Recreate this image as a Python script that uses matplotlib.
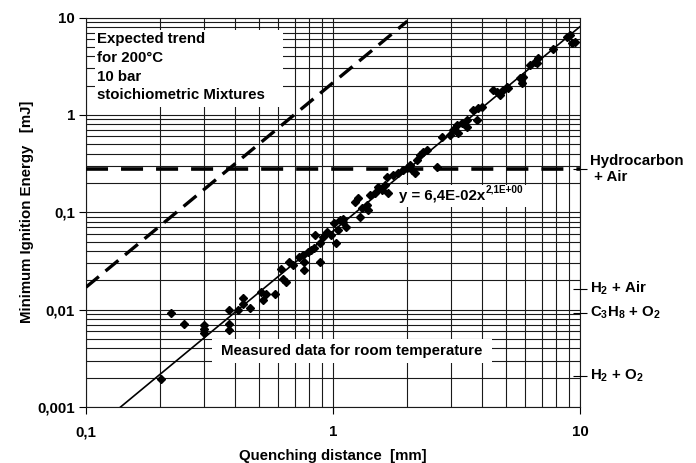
import numpy as np
import matplotlib
matplotlib.use("Agg")
import matplotlib.pyplot as plt
from matplotlib.patches import Rectangle
from matplotlib.ticker import FixedLocator, LogLocator, NullFormatter
import matplotlib.transforms as mtransforms

plt.rcParams['font.family'] = ['Liberation Sans', 'DejaVu Sans']
plt.rcParams['font.weight'] = 'bold'
plt.rcParams['mathtext.fontset'] = 'custom'
plt.rcParams['mathtext.rm'] = 'Liberation Sans:bold'
plt.rcParams['mathtext.it'] = 'Liberation Sans:bold'
plt.rcParams['mathtext.bf'] = 'Liberation Sans:bold'

# ---- data: measured quenching distance [mm] and minimum ignition energy [mJ]
quench_mm = [0.201, 0.220, 0.249, 0.300, 0.300, 0.300, 0.379, 0.379, 0.379, 0.411,
             0.431, 0.431, 0.460, 0.509, 0.519, 0.534, 0.580, 0.614, 0.625, 0.643,
             0.661, 0.686, 0.726, 0.753, 0.760, 0.760, 0.789, 0.811, 0.834, 0.842,
             0.882, 0.887, 0.915, 0.950, 0.977, 1.005, 1.024, 1.043, 1.072, 1.102,
             1.134, 1.093, 1.233, 1.268, 1.315, 1.291, 1.378, 1.390, 1.418, 1.485,
             1.527, 1.585, 1.629, 1.660, 1.675, 1.754, 1.840, 1.928, 2.000, 2.056,
             2.094, 2.153, 2.193, 2.258, 2.321, 2.410, 2.643, 2.767, 2.985, 3.070,
             3.184, 3.214, 3.334, 3.490, 3.490, 3.837, 3.698, 3.873, 4.018, 4.446,
             4.620, 4.750, 4.886, 5.070, 5.120, 5.730, 5.830, 5.890, 6.280, 6.580,
             6.770, 6.700, 7.780, 8.850, 9.120, 9.290, 9.550]
mie_mJ = [0.00196, 0.0093, 0.00718, 0.00702, 0.00638, 0.00581, 0.0100, 0.00718, 0.00623, 0.0100,
          0.0133, 0.0115, 0.0105, 0.0153, 0.0127, 0.0146, 0.0143, 0.0263, 0.0208, 0.0194,
          0.0311, 0.0290, 0.0350, 0.0366, 0.0311, 0.0257, 0.0393, 0.0412, 0.0432, 0.0588,
          0.0486, 0.0311, 0.0560, 0.0631, 0.0588, 0.078, 0.0486, 0.0662, 0.0838, 0.080,
          0.071, 0.0858, 0.128, 0.141, 0.111, 0.090, 0.119, 0.106, 0.151, 0.158,
          0.183, 0.170, 0.191, 0.231, 0.158, 0.243, 0.254, 0.273, 0.286, 0.307,
          0.273, 0.254, 0.345, 0.389, 0.418, 0.438, 0.290, 0.594, 0.624, 0.702,
          0.789, 0.653, 0.827, 0.889, 0.754, 0.889, 1.125, 1.180, 1.208, 1.80,
          1.72, 1.60, 1.80, 1.94, 1.89, 2.39, 2.13, 2.45, 3.26, 3.50,
          3.85, 3.41, 4.75, 6.31, 6.62, 5.47, 5.61]

# power-law fit of measured data (as printed) and expected trend at 200 C / 10 bar
fit_coef, fit_exp = 0.064, 2.1
fit_x_range = [0.136, 10.0]
trend_coef, trend_exp = 2.14, 2.1
trend_x_range = [0.1, 2.0]
hydrocarbon_air_mJ = 0.28

right_labels = ["Hydrocarbon\n + Air", "H$_2$ + Air", "C$_3$H$_8$ + O$_2$", "H$_2$ + O$_2$"]
right_values = [0.28, 0.0164, 0.0093, 0.0021]

x_ticks = [0.1, 1, 10]
x_ticklabels = ["0,1", "1", "10"]
y_ticks = [0.001, 0.01, 0.1, 1, 10]
y_ticklabels = ["0,001", "0,01", "0,1", "1", "10"]

FS = 10.8

fig = plt.figure(figsize=(6.96, 4.63), dpi=100)
ax = fig.add_axes([86/696, 1-407/463, 494/696, 389.5/463])
ax.set_xscale('log')
ax.set_yscale('log')
ax.set_xlim(0.1, 10)
ax.set_ylim(0.001, 10)

# grid
ax.xaxis.set_minor_locator(LogLocator(base=10, subs=np.arange(2, 10)))
ax.yaxis.set_minor_locator(LogLocator(base=10, subs=np.arange(2, 10)))
ax.xaxis.set_minor_formatter(NullFormatter())
ax.yaxis.set_minor_formatter(NullFormatter())
ax.grid(True, which='both', color='#1a1a1a', lw=0.8, zorder=0)
ax.set_axisbelow(True)
ax.tick_params(which='minor', length=0)
ax.tick_params(which='major', direction='out', length=5, width=0.8, labelsize=FS, pad=8)

ax.xaxis.set_major_locator(FixedLocator(x_ticks))
ax.yaxis.set_major_locator(FixedLocator(y_ticks))
ax.set_xticklabels(x_ticklabels, fontweight='bold')
ax.set_yticklabels(y_ticklabels, fontweight='bold')
ax.tick_params(axis='y', pad=3)

for s in ax.spines.values():
    s.set_color('#1a1a1a')
    s.set_linewidth(0.8)

# white text boxes (drawn above grid)
ax.add_patch(Rectangle((0.018, 0.771), 0.381, 0.198, transform=ax.transAxes,
                       facecolor='white', edgecolor='none', zorder=1))
ax.add_patch(Rectangle((0.255, 0.113), 0.567, 0.062, transform=ax.transAxes,
                       facecolor='white', edgecolor='none', zorder=1))
ax.add_patch(Rectangle((0.630, 0.514), 0.263, 0.057, transform=ax.transAxes,
                       facecolor='white', edgecolor='none', zorder=1))

# lines
fx = np.geomspace(fit_x_range[0], fit_x_range[1], 50)
ax.plot(fx, fit_coef * fx ** fit_exp, color='black', lw=1.2, zorder=3)

tx = np.geomspace(trend_x_range[0], trend_x_range[1], 50)
l1, = ax.plot(tx, trend_coef * tx ** trend_exp, color='black', lw=2.4, zorder=3)
l1.set_dashes((5.0, 2.6))
l1.set_dash_capstyle('butt')

l2, = ax.plot([0.1, 10], [hydrocarbon_air_mJ, hydrocarbon_air_mJ], color='black', lw=2.6,
              zorder=3)
l2.set_dashes((6.1, 3.6))
l2.set_dash_capstyle('butt')

# measured points
ax.plot(quench_mm, mie_mJ, linestyle='none', marker='D', ms=3.9, color='black', zorder=4)

# texts
ax.text(0.022, 0.962, "Expected trend\nfor 200°C\n10 bar\nstoichiometric Mixtures",
        transform=ax.transAxes, ha='left', va='top', fontsize=FS, fontweight='bold',
        linespacing=1.42, zorder=5)
ax.text(0.538, 0.143, "Measured data for room temperature", transform=ax.transAxes,
        ha='center', va='center', fontsize=FS, fontweight='bold', zorder=5)
t_eq = ax.text(0.634, 0.541, "y = 6,4E-02x", transform=ax.transAxes, ha='left',
               va='center', fontsize=FS, fontweight='bold', zorder=5)
ax.annotate("2,1E+00", xy=(1.0, 0.62), xycoords=t_eq, ha='left', va='bottom',
            fontsize=7.2, fontweight='bold', zorder=5)

trans = mtransforms.blended_transform_factory(ax.transAxes, ax.transData)
for lab, val in zip(right_labels, right_values):
    ax.text(1.02, val, lab, transform=trans, ha='left', va='center', fontsize=FS,
            fontweight='bold', clip_on=False, linespacing=1.2)

ax2 = ax.twinx()
ax2.set_yscale('log')
ax2.set_ylim(0.001, 10)
ax2.yaxis.set_major_locator(FixedLocator(right_values))
ax2.yaxis.set_minor_locator(FixedLocator([]))
ax2.yaxis.set_major_formatter(NullFormatter())
ax2.yaxis.set_minor_formatter(NullFormatter())
ax2.tick_params(axis='y', direction='inout', length=10, width=0.8)
for s in ax2.spines.values():
    s.set_visible(False)

ax.set_xlabel("Quenching distance  [mm]", fontsize=FS, fontweight='bold', labelpad=7)
ax.set_ylabel("Minimum Ignition Energy   [mJ]", fontsize=FS, fontweight='bold', labelpad=2)

fig.savefig("out.png", dpi=100)
